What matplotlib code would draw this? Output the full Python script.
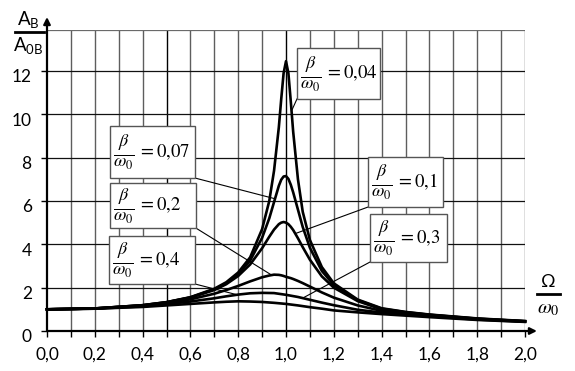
import numpy as np
import matplotlib
matplotlib.use('Agg')
import matplotlib.pyplot as plt
from matplotlib.lines import Line2D
from matplotlib.patches import Rectangle

plt.rcParams['font.family'] = ['Lato', 'DejaVu Sans']
plt.rcParams['mathtext.fontset'] = 'stix'

# frequency ratio Omega/omega0
x_fine = [0.0, 0.2, 0.4, 0.5, 0.6, 0.7, 0.75, 0.8, 0.85, 0.9, 0.93, 0.95, 0.97, 0.98, 0.99,
          1.0, 1.01, 1.02, 1.03, 1.05, 1.07, 1.1, 1.15, 1.2, 1.3, 1.4, 1.5, 1.6, 1.8, 2.0]
x_broad = [0.0, 0.2, 0.4, 0.5, 0.6, 0.7, 0.75, 0.8, 0.85, 0.9, 0.95,
           1.0, 1.05, 1.1, 1.15, 1.2, 1.3, 1.4, 1.5, 1.6, 1.8, 2.0]

# amplitude ratio A_B/A_0B for each damping ratio
a_004 = [1.0, 1.04, 1.19, 1.33, 1.56, 1.95, 2.25, 2.7, 3.4, 4.7, 6.0, 7.4, 9.4, 10.7, 11.9,
         12.45, 11.9, 10.6, 9.2, 7.0, 5.5, 4.2, 2.95, 2.2, 1.45, 1.05, 0.88, 0.76, 0.58, 0.46]
a_007 = [1.0, 1.04, 1.19, 1.33, 1.55, 1.92, 2.2, 2.63, 3.25, 4.3, 5.2, 5.95, 6.7, 6.98, 7.13,
         7.15, 7.02, 6.75, 6.4, 5.6, 4.8, 3.84, 2.77, 2.12, 1.42, 1.03, 0.87, 0.75, 0.57, 0.45]
a_01 = [1.0, 1.04, 1.185, 1.32, 1.54, 1.89, 2.16, 2.54, 3.07, 3.82, 4.35, 4.68, 4.93, 5.0, 5.03,
        5.0, 4.93, 4.81, 4.66, 4.28, 3.87, 3.29, 2.52, 2.0, 1.38, 1.0, 0.85, 0.74, 0.56, 0.45]
a_02 = [1.0, 1.04, 1.17, 1.29, 1.46, 1.72, 1.89, 2.08, 2.29, 2.48, 2.56, 2.6, 2.59, 2.57, 2.54,
        2.5, 2.47, 2.44, 2.40, 2.31, 2.21, 2.05, 1.78, 1.54, 1.18, 0.93, 0.81, 0.71, 0.55, 0.44]
a_03 = [1.0, 1.03, 1.14, 1.24, 1.36, 1.51, 1.6, 1.68, 1.74, 1.76, 1.75,
        1.67, 1.57, 1.44, 1.31, 1.19, 0.98, 0.85, 0.76, 0.68, 0.53, 0.43]
a_04 = [1.0, 1.03, 1.11, 1.18, 1.25, 1.32, 1.35, 1.37, 1.36, 1.34, 1.30,
        1.25, 1.18, 1.10, 1.03, 0.95, 0.86, 0.78, 0.71, 0.64, 0.51, 0.42]

ratio_text = ['0,04', '0,07', '0,2', '0,4', '0,1', '0,3']
# label boxes (x0, y0, x1, y1) and leader lines, data units
boxes = [(1.046, 10.71, 1.393, 13.06), (0.264, 7.06, 0.619, 9.46), (0.264, 4.75, 0.623, 6.83),
         (0.259, 2.17, 0.619, 4.38), (1.343, 5.72, 1.657, 8.03), (1.351, 3.18, 1.674, 5.39)]
lead_to = [(1.025, 10.2), (0.955, 6.1), (0.94, 2.58), (0.80, 1.66), (1.04, 4.5), (1.07, 1.52)]

fig = plt.figure(figsize=(5.75, 3.71), dpi=100)
ax = fig.add_axes([47 / 575, 40 / 371, 478 / 575, 301 / 371])
ymax = 301 / 21.67
ax.set_xlim(0, 2)
ax.set_ylim(0, ymax)
for s in ax.spines.values():
    s.set_visible(False)

# grid
for i in range(1, 21):
    dark = i in (5, 10)
    ax.vlines(i / 10, 0, ymax, color='k' if dark else '#5e5e5e', lw=1.0, zorder=1)
ax.hlines(range(2, 14, 2), 0, 2, color='#111111', lw=0.9, zorder=1)
ax.hlines(ymax, 0, 2, color='#6a6a6a', lw=0.9, zorder=1)

# axes with arrows
arrow = dict(arrowstyle='-|>', color='k', lw=1.6, mutation_scale=10, shrinkA=0, shrinkB=0)
ax.annotate('', xy=(1.025, 0), xytext=(0, 0), xycoords='axes fraction',
            arrowprops=arrow, annotation_clip=False)
ax.annotate('', xy=(0, 1.043), xytext=(0, 0), xycoords='axes fraction',
            arrowprops=arrow, annotation_clip=False)

xt = [i / 10 for i in range(21)]
ax.set_xticks(xt)
ax.set_xticklabels([f'{v:.1f}'.replace('.', ',') if i % 2 == 0 else '' for i, v in enumerate(xt)])
ax.set_yticks(range(0, 13, 2))
ax.set_yticklabels([str(v) for v in range(0, 13, 2)])
ax.tick_params(axis='both', direction='out', length=4, width=1, labelsize=12.5, pad=7)
offset = matplotlib.transforms.ScaledTranslation(0, -5 / 100, fig.dpi_scale_trans)
for lab in ax.get_yticklabels():
    lab.set_transform(lab.get_transform() + offset)

# curves
curves = [(x_fine, a_004), (x_fine, a_007), (x_fine, a_01), (x_fine, a_02),
          (x_broad, a_03), (x_broad, a_04)]
for xs, ys in curves:
    ax.plot(xs, ys, color='k', lw=1.9, solid_joinstyle='round', zorder=3, clip_on=False)

# labels: box, fraction beta/omega0 and "= value"
px = 1 / 239  # one pixel in x data units
for txt, (x0, y0, x1, y1), p1 in zip(ratio_text, boxes, lead_to):
    corner = (x0, y0) if p1[0] < x0 else (x1, y0)
    ax.plot([corner[0], p1[0]], [corner[1], p1[1]], color='k', lw=0.8, zorder=4)
    ax.add_patch(Rectangle((x0, y0), x1 - x0, y1 - y0, fc='white', ec='#555555',
                           lw=1.0, zorder=5))
    yc = (y0 + y1) / 2
    ax.text(x0 + 14 * px, yc, r'$\frac{\beta}{\omega_0}$', fontsize=18.5,
            ha='center', va='center', zorder=6)
    ax.text(x0 + 28 * px, yc, '$= ' + txt.replace(',', '{,}') + '$', fontsize=13.5,
            ha='left', va='center', zorder=6)

# axis names
fig.text(28 / 575, 1 - 20 / 371, r'$\mathregular{A_B}$', fontsize=13.5, ha='center', va='center')
fig.text(28 / 575, 1 - 45 / 371, r'$\mathregular{A_{0B}}$', fontsize=13.5, ha='center', va='center')
fig.add_artist(Line2D([15 / 575, 44 / 575], [1 - 32 / 371] * 2, color='k', lw=2.0))
fig.text(548 / 575, 1 - 282 / 371, 'Ω', fontsize=13, ha='center', va='center')
fig.add_artist(Line2D([537 / 575, 560 / 575], [1 - 294 / 371] * 2, color='k', lw=2.0))
fig.text(548 / 575, 1 - 309 / 371, r'$\omega_0$', fontsize=14.5, ha='center', va='center')

fig.savefig('out.png', dpi=100)
